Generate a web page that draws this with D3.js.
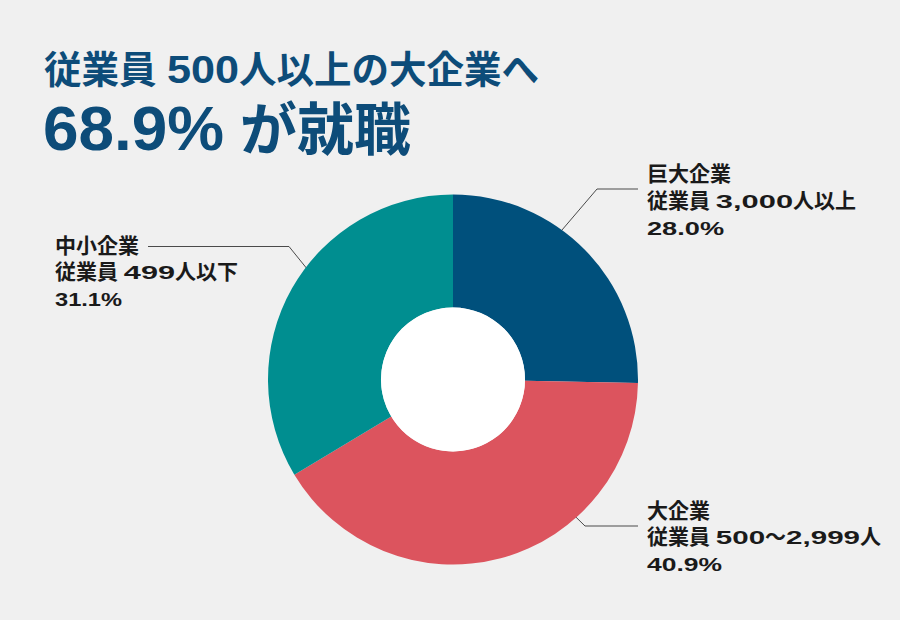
<!DOCTYPE html>
<html>
<head>
<meta charset="utf-8">
<script src="https://cdn.jsdelivr.net/npm/d3@7"></script>
<style>
body { margin: 0; background: #f0f0f0; }
svg { display: block; font-family: "Liberation Sans", "Noto Sans CJK JP", sans-serif; font-weight: bold; }
svg text { white-space: pre; }
</style>
</head>
<body>
<svg id="chart" width="900" height="620"></svg>
<script>
// data
var categories = ["巨大企業", "大企業", "中小企業"];
var subtitles = ["従業員 3,000人以上", "従業員 500～2,999人", "従業員 499人以下"];
var percents = [28.0, 40.9, 31.1];
// the wedges in the original are not drawn at the printed shares;
// these are the shares (91deg, 148deg, 121deg)
var sliceShares = [25.3, 41.1, 33.6];
var colors = ["#00507c", "#dc545e", "#008e90"];
var titleLines = ["従業員 500人以上の大企業へ", "68.9% が就職"];

// label placement and leader lines
var labelLayout = [
    {x: 647, y: 181, widths: [87, 209, 77], angle: 36, elbow: [597, 189], end: 638},
    {x: 647, y: 517.5, widths: [65, 234, 75], angle: 138.3, elbow: [585, 526], end: 638},
    {x: 55, y: 252.5, widths: [86, 183, 67], angle: 307, elbow: [289, 246.5], end: 148}
];

var cx = 453, cy = 379.5, outerR = 185, innerR = 72;
var svg = d3.select('#chart');

svg.append('rect')
    .attr('width', 900)
    .attr('height', 620)
    .attr('fill', '#f0f0f0');

// draws one line of mixed latin / japanese text; the latin runs are
// stretched sideways so the line fills the given width
function drawLine(str, x, y, width, latinSize, cjkSize, fill) {
    var runs = str.match(/ +|[\x21-\x7F]+|[^\x00-\x7F]+/g);
    var g = svg.append('g');
    var items = runs.map(function(r) {
        var latin = /^[\x21-\x7F]/.test(r);
        var t = g.append('text')
            .attr('y', y)
            .attr('font-size', latin ? latinSize : cjkSize)
            .attr('fill', fill)
            .text(r);
        return {t: t, latin: latin, w: t.node().getComputedTextLength()};
    });
    var fixedW = d3.sum(items, function(d) { return d.latin ? 0 : d.w; });
    var latinW = d3.sum(items, function(d) { return d.latin ? d.w : 0; });
    var sx = latinW ? Math.max(1, (width - fixedW) / latinW) : 1;
    var cursor = x;
    items.forEach(function(d) {
        var s = d.latin ? sx : 1;
        d.t.attr('transform', 'translate(' + cursor + ',0) scale(' + s + ',1)');
        cursor += d.w * s;
    });
}

// title
drawLine(titleLines[0], 44, 83, 495, 38.5, 37.5, '#0d4c79');
drawLine(titleLines[1], 43, 150, 368, 62, 57, '#0d4c79');

var pie = d3.pie().sort(null).value(function(d) { return d; });
var arcs = pie(sliceShares);
var arc = d3.arc().innerRadius(innerR).outerRadius(outerR);

// leader lines first so the donut covers their start
labelLayout.forEach(function(l) {
    var p = d3.pointRadial(l.angle * Math.PI / 180, outerR - 4);
    svg.append('polyline')
        .attr('points', [[cx + p[0], cy + p[1]], l.elbow, [l.end, l.elbow[1]]].map(function(q) { return q.join(','); }).join(' '))
        .attr('fill', 'none')
        .attr('stroke', '#4a4a4a')
        .attr('stroke-width', 1);
});

var g = svg.append('g').attr('transform', 'translate(' + cx + ',' + cy + ')');
g.selectAll('path')
    .data(arcs)
    .enter()
    .append('path')
    .attr('d', arc)
    .attr('fill', function(d, i) { return colors[i]; });

g.append('circle')
    .attr('r', innerR)
    .attr('fill', '#ffffff');

// labels
labelLayout.forEach(function(l, i) {
    var lines = [categories[i], subtitles[i], percents[i].toFixed(1) + '%'];
    lines.forEach(function(line, j) {
        drawLine(line, l.x, l.y + j * 26.8, l.widths[j], 17.8, 21, '#1a1a1a');
    });
});
</script>
</body>
</html>
